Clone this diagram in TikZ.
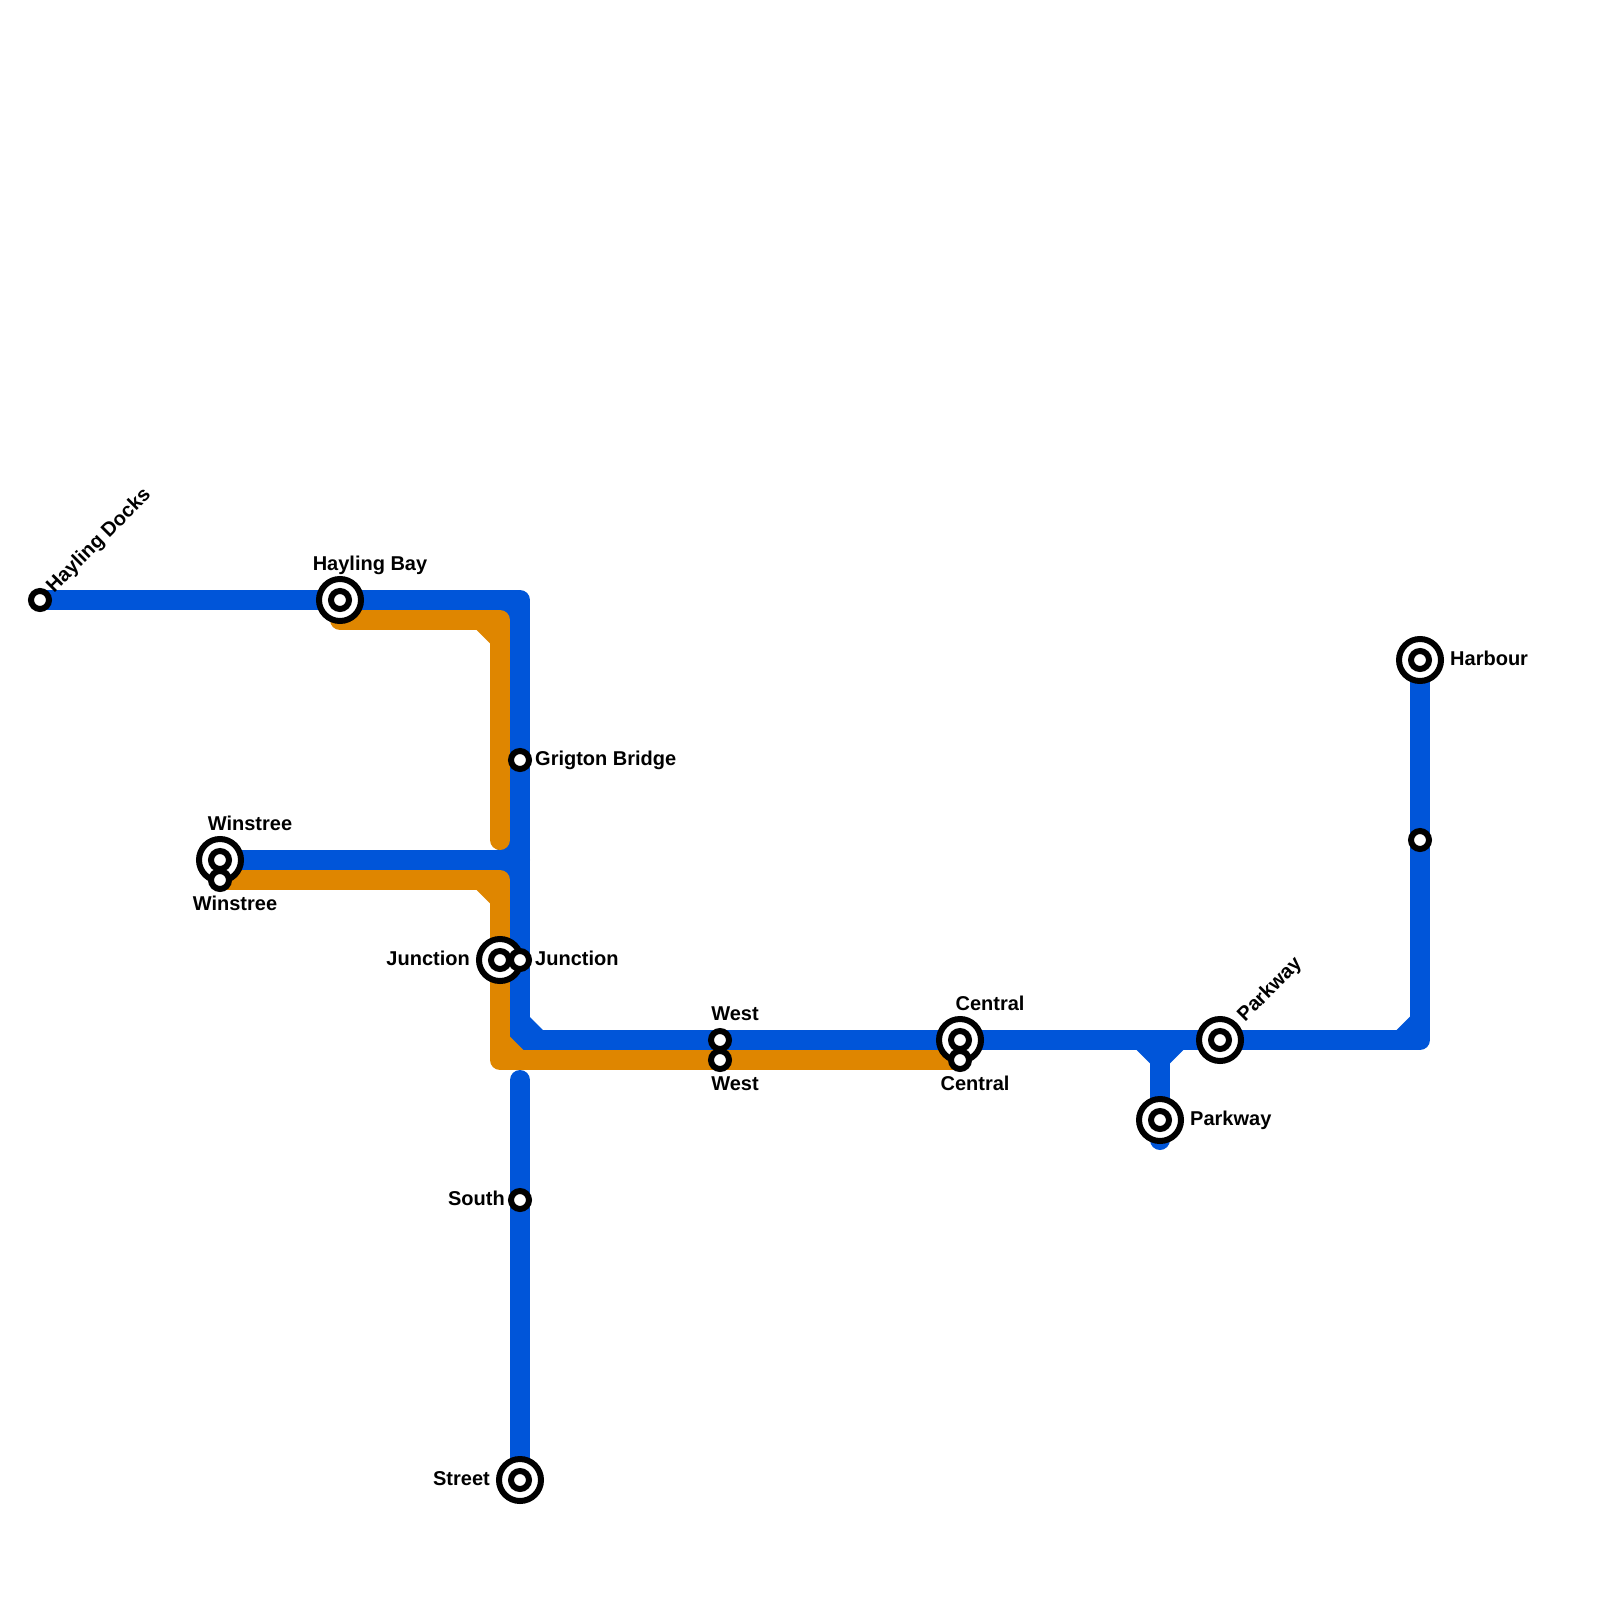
\documentclass[tikz,border=0pt]{standalone}
\usepackage{fontspec}
\setmainfont{Liberation Sans}[BoldFont={Liberation Sans Bold}]
\definecolor{lineblue}{HTML}{0055D9}
\definecolor{lineorange}{HTML}{DF8600}
\tikzset{
  blueline/.style={draw=lineblue,line width=20pt,line cap=round,line join=round},
  orangeline/.style={draw=lineorange,line width=20pt,line cap=round,line join=round},
  bluefill/.style={fill=lineblue,draw=none},
  orangefill/.style={fill=lineorange,draw=none},
  bigring/.style={circle,draw=black,fill=white,line width=6pt,minimum size=42pt,inner sep=0pt},
  smallring/.style={circle,draw=black,fill=white,line width=6pt,minimum size=18pt,inner sep=0pt},
  lbl/.style={font=\bfseries\fontsize{20}{20}\selectfont,inner sep=0pt,text=black},
}
\begin{document}
\begin{tikzpicture}[x=1pt,y=-1pt]
\useasboundingbox (0,0) rectangle (1600,1600);
% station positions
\coordinate (hd) at (40,600);
\coordinate (hb) at (340,600);
\coordinate (hbo) at (340,620);
\coordinate (ctl) at (520,600);
\coordinate (cto) at (500,620);
\coordinate (oend) at (500,840);
\coordinate (gb) at (520,760);
\coordinate (wb) at (220,860);
\coordinate (wo) at (220,880);
\coordinate (wtb) at (520,860);
\coordinate (wto) at (500,880);
\coordinate (jo) at (500,960);
\coordinate (jb) at (520,960);
\coordinate (cb) at (520,1040);
\coordinate (co) at (500,1060);
\coordinate (westb) at (720,1040);
\coordinate (westo) at (720,1060);
\coordinate (cenb) at (960,1040);
\coordinate (ceno) at (960,1060);
\coordinate (tee) at (1160,1040);
\coordinate (pkd) at (1160,1120);
\coordinate (pkdend) at (1160,1140);
\coordinate (pkr) at (1220,1040);
\coordinate (cr) at (1420,1040);
\coordinate (mid) at (1420,840);
\coordinate (hbr) at (1420,660);
\coordinate (sstart) at (520,1080);
\coordinate (south) at (520,1200);
\coordinate (street) at (520,1480);
% blue lines
\draw[blueline] (hd) -- (hb) -- (ctl) -- (gb) -- (wtb) -- (jb) -- (cb) -- (westb) -- (cenb) -- (tee) -- (pkr) -- (cr) -- (mid) -- (hbr);
\draw[blueline] (wb) -- (wtb);
\draw[blueline] (tee) -- (pkd) -- (pkdend);
\draw[blueline] (sstart) -- (south) -- (street);
% blue corner fills
\fill[bluefill] (497,610) -- (510,610) -- (510,623) -- cycle;
\fill[bluefill] (497,850) -- (510,850) -- (510,837) -- cycle;
\fill[bluefill] (497,870) -- (510,870) -- (510,883) -- cycle;
\fill[bluefill] (530,1017) -- (530,1030) -- (543,1030) -- cycle;
\fill[bluefill] (1136.7,1050) -- (1150,1050) -- (1150,1063.3) -- cycle;
\fill[bluefill] (1183.3,1050) -- (1170,1050) -- (1170,1063.3) -- cycle;
\fill[bluefill] (1396.7,1030) -- (1410,1030) -- (1410,1016.7) -- cycle;
% orange lines
\draw[orangeline] (hbo) -- (cto) -- (oend);
\draw[orangeline] (wo) -- (wto) -- (jo) -- (co) -- (westo) -- (ceno);
% orange corner fills
\fill[orangefill] (476.7,630) -- (490,630) -- (490,643.3) -- cycle;
\fill[orangefill] (476.7,890) -- (490,890) -- (490,903.3) -- cycle;
\fill[orangefill] (510,1036.7) -- (510,1050) -- (523.3,1050) -- cycle;
% big stations
\node[bigring] (s1) at (hb) {};
\node[smallring] (s1i) at (hb) {};
\node[bigring] (s2) at (wb) {};
\node[smallring] (s2i) at (wb) {};
\node[bigring] (s3) at (jo) {};
\node[smallring] (s3i) at (jo) {};
\node[bigring] (s4) at (cenb) {};
\node[smallring] (s4i) at (cenb) {};
\node[bigring] (s5) at (pkd) {};
\node[smallring] (s5i) at (pkd) {};
\node[bigring] (s6) at (pkr) {};
\node[smallring] (s6i) at (pkr) {};
\node[bigring] (s7) at (hbr) {};
\node[smallring] (s7i) at (hbr) {};
\node[bigring] (s8) at (street) {};
\node[smallring] (s8i) at (street) {};
% small stations
\node[smallring] (t1) at (hd) {};
\node[smallring] (t2) at (gb) {};
\node[smallring] (t3) at (wo) {};
\node[smallring] (t4) at (jb) {};
\node[smallring] (t5) at (westb) {};
\node[smallring] (t6) at (westo) {};
\node[smallring] (t7) at (ceno) {};
\node[smallring] (t8) at (mid) {};
\node[smallring] (t9) at (south) {};
% labels
\node[lbl,anchor=base west,rotate=45] (l1) at (54,593.5) {Hayling Docks};
\node[lbl,anchor=base] (l2) at (370,570.5) {Hayling Bay};
\node[lbl,anchor=base west] (l3) at (535,765.5) {Grigton Bridge};
\node[lbl,anchor=base] (l4) at (250,830.5) {Winstree};
\node[lbl,anchor=base] (l5) at (235,910.5) {Winstree};
\node[lbl,anchor=base east] (l6) at (470,965.5) {Junction};
\node[lbl,anchor=base west] (l7) at (535,965.5) {Junction};
\node[lbl,anchor=base] (l8) at (735,1020.5) {West};
\node[lbl,anchor=base] (l9) at (735,1090.5) {West};
\node[lbl,anchor=base] (l10) at (990,1010.5) {Central};
\node[lbl,anchor=base] (l11) at (975,1090.5) {Central};
\node[lbl,anchor=base west] (l12) at (1190,1125.5) {Parkway};
\node[lbl,anchor=base west,rotate=45] (l13) at (1245,1022.5) {Parkway};
\node[lbl,anchor=base west] (l14) at (1450,665.5) {Harbour};
\node[lbl,anchor=base east] (l15) at (505,1205.5) {South};
\node[lbl,anchor=base east] (l16) at (490,1485.5) {Street};
\end{tikzpicture}
\end{document}
